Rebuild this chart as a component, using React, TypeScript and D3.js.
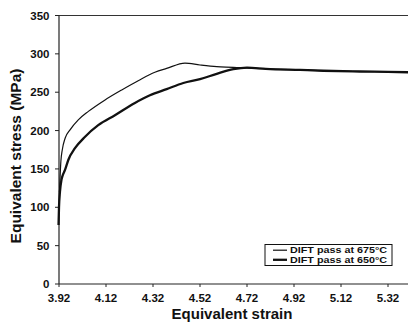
import React from "react";
import * as d3 from "d3";

const xTicks = [3.92, 4.12, 4.32, 4.52, 4.72, 4.92, 5.12, 5.32];
const yTicks = [0, 50, 100, 150, 200, 250, 300, 350];

const seriesNames = ["DIFT pass at 675°C", "DIFT pass at 650°C"];

const strain675 = [3.922, 3.928, 3.934, 3.946, 3.967, 4.002, 4.045, 4.116, 4.187, 4.257, 4.328, 4.378, 4.456, 4.52, 4.591, 4.662, 4.69, 4.8, 4.946, 5.045, 5.2, 5.32, 5.41];
const stress675 = [120, 160, 175, 190, 201, 214, 225, 240, 253, 265, 276, 281, 288, 285.5, 283.3, 282.5, 282, 280.5, 279, 278, 277, 276.5, 276];

const strain650 = [3.918, 3.92, 3.924, 3.93, 3.934, 3.946, 3.96, 3.988, 4.031, 4.087, 4.158, 4.243, 4.307, 4.378, 4.449, 4.52, 4.591, 4.662, 4.72, 4.8, 4.946, 5.045, 5.2, 5.32, 5.41];
const stress650 = [77, 100, 120, 135, 140, 149, 162, 177, 192, 207, 220, 236, 246, 254, 262, 267, 274, 280, 282, 280.5, 279, 278, 277, 276.5, 276];

export default function App() {
  const W = 408, H = 323;
  const x = d3.scaleLinear().domain([3.92, 5.42]).range([59, 411.5]);
  const y = d3.scaleLinear().domain([0, 350]).range([284, 15.5]);
  const line = d3.line<[number, number]>().x(d => x(d[0])).y(d => y(d[1])).curve(d3.curveMonotoneX);
  const d675 = line(strain675.map((s, i) => [s, stress675[i]]) as [number, number][]) || "";
  const d650 = line(strain650.map((s, i) => [s, stress650[i]]) as [number, number][]) || "";
  const font = "'Liberation Sans', Arial, sans-serif";
  const y0 = y(0), yTop = y(350), x0 = x(3.92);
  return (
    <svg width={W} height={H} style={{ position: "absolute", left: 0, top: 0, background: "#fff" }} fontFamily={font}>
      <rect x={0} y={0} width={W} height={H} fill="#fff" />
      <line x1={x0} x2={W} y1={yTop} y2={yTop} stroke="#333" strokeWidth={1.2} />
      <line x1={x0} x2={W} y1={y0} y2={y0} stroke="#222" strokeWidth={1.2} />
      <line x1={x0} x2={x0} y1={yTop} y2={y0} stroke="#222" strokeWidth={1.2} />
      {yTicks.map(t => (
        <g key={"y" + t}>
          <line x1={x0 - 4} x2={x0} y1={y(t)} y2={y(t)} stroke="#222" strokeWidth={1} />
          <text x={49.5} y={y(t)} dy="0.36em" textAnchor="end" fontSize={11.5} fontWeight="bold" fill="#111">{t}</text>
        </g>
      ))}
      {xTicks.map(t => (
        <g key={"x" + t}>
          <line x1={x(t)} x2={x(t)} y1={y0} y2={y0 + 3} stroke="#222" strokeWidth={1} />
          <text x={x(t)} y={301.5} textAnchor="middle" fontSize={11.5} fontWeight="bold" fill="#111">{t.toFixed(2)}</text>
        </g>
      ))}
      <text x={232} y={319} textAnchor="middle" fontSize={15} fontWeight="bold" fill="#111">Equivalent strain</text>
      <text transform={`translate(20.5,156) rotate(-90)`} textAnchor="middle" fontSize={15.5} fontWeight="bold" fill="#111">Equivalent stress (MPa)</text>
      <path d={d650} fill="none" stroke="#111" strokeWidth={2.3} strokeLinejoin="round" />
      <path d={d675} fill="none" stroke="#111" strokeWidth={1.2} strokeLinejoin="round" />
      <rect x={265} y={244.5} width={127} height={21} fill="#fff" stroke="#111" strokeWidth={1} />
      <line x1={273} x2={287} y1={250.2} y2={250.2} stroke="#111" strokeWidth={1.2} />
      <line x1={273} x2={287} y1={259.8} y2={259.8} stroke="#111" strokeWidth={2.3} />
      <text x={290} y={250.2} dy="0.36em" fontSize={8.8} fontWeight="bold" fill="#111" textLength={97} lengthAdjust="spacingAndGlyphs">{seriesNames[0]}</text>
      <text x={290} y={259.8} dy="0.36em" fontSize={8.8} fontWeight="bold" fill="#111" textLength={97} lengthAdjust="spacingAndGlyphs">{seriesNames[1]}</text>
    </svg>
  );
}
